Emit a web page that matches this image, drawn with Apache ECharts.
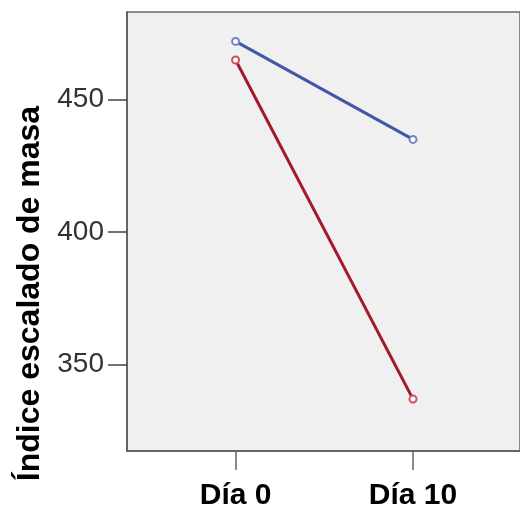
<!DOCTYPE html>
<html>
<head>
<meta charset="utf-8">
<script src="https://cdn.jsdelivr.net/npm/echarts@6/dist/echarts.min.js"></script>
<style>
html, body { margin: 0; padding: 0; background: #fff; }
#main { width: 520px; height: 511px; }
</style>
</head>
<body>
<div id="main"></div>
<script>
var dias = ['Día 0', 'Día 10'];
var diaPos = [0, 1];
var azul = [472, 435];
var rojo = [465, 337];
var yTicks = [350, 400, 450];

function pares(vals) {
    var res = [];
    for (var i = 0; i < vals.length; i++) {
        res.push([diaPos[i], vals[i]]);
    }
    return res;
}

var myChart = echarts.init(document.getElementById('main'));
var option = {
    animation: false,
    grid: {
        left: 127, top: 12, right: -5, bottom: 58,
        show: true,
        backgroundColor: '#f0f0f0',
        borderColor: '#6a6a6a',
        borderWidth: 1.5
    },
    xAxis: {
        type: 'value',
        min: -0.612,
        max: 1.603,
        axisLine: { show: true, onZero: false, lineStyle: { color: '#595959', width: 1.5 } },
        axisTick: { show: true, length: 19, customValues: diaPos, lineStyle: { color: '#666', width: 1.5 } },
        axisLabel: {
            customValues: diaPos,
            margin: 30,
            fontFamily: 'Liberation Sans, Arial, sans-serif',
            fontSize: 30,
            fontWeight: 'bold',
            color: '#000',
            formatter: function (v) {
                var i = diaPos.indexOf(Math.round(v));
                return i >= 0 ? dias[i] : '';
            }
        },
        splitLine: { show: false }
    },
    yAxis: {
        type: 'value',
        min: 317.4,
        max: 483.1,
        name: 'Índice escalado de masa',
        nameLocation: 'middle',
        nameGap: 81,
        nameTextStyle: {
            fontFamily: 'Liberation Sans, Arial, sans-serif',
            fontSize: 32,
            fontWeight: 'bold',
            color: '#000',
            padding: [0, 124, 0, 0]
        },
        axisLine: { show: true, onZero: false, lineStyle: { color: '#595959', width: 1.5 } },
        axisTick: { show: true, length: 19, customValues: yTicks, lineStyle: { color: '#444', width: 1.5 } },
        axisLabel: {
            customValues: yTicks,
            margin: 23,
            fontFamily: 'Liberation Sans, Arial, sans-serif',
            fontSize: 28,
            color: '#333'
        },
        splitLine: { show: false }
    },
    series: [
        {
            name: 'azul',
            type: 'line',
            data: pares(azul),
            symbol: 'emptyCircle',
            symbolSize: 7,
            lineStyle: { color: '#4356a8', width: 3 },
            itemStyle: { color: '#7083c8', borderColor: '#7083c8', borderWidth: 1.5 }
        },
        {
            name: 'rojo',
            type: 'line',
            data: pares(rojo),
            symbol: 'emptyCircle',
            symbolSize: 7,
            lineStyle: { color: '#a3182a', width: 3 },
            itemStyle: { color: '#d0505c', borderColor: '#d0505c', borderWidth: 1.5 }
        }
    ]
};
myChart.setOption(option);
</script>
</body>
</html>
